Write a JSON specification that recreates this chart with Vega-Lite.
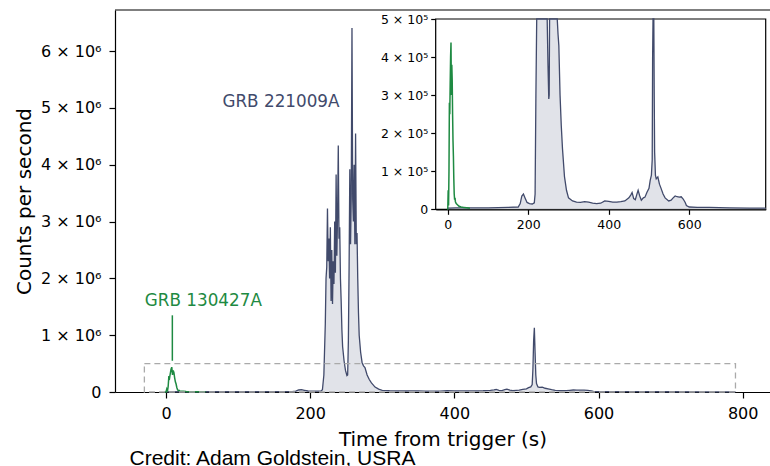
{
  "$schema": "https://vega.github.io/schema/vega-lite/v6.json",
  "width": 655,
  "height": 382,
  "autosize": {"type": "none"},
  "padding": {"left": 115, "top": 10, "right": 0, "bottom": 74},
  "background": "white",
  "config": {
    "font": "DejaVu Sans",
    "view": {"stroke": null},
    "axis": {"grid": false, "domainColor": "black", "tickColor": "black", "labelColor": "black", "titleColor": "black", "domainWidth": 1.2, "tickWidth": 1.2, "titleFontWeight": "normal"}
  },
  "title": {"text": "Credit: Adam Goldstein, USRA", "orient": "bottom", "anchor": "start", "font": "Liberation Sans", "fontSize": 21, "fontWeight": "normal", "color": "black", "dx": 115, "offset": -1},
  "datasets": {
    "grb221009a": [
      {"t": 0, "v": 3000}, {"t": 20, "v": 4000}, {"t": 60, "v": 4000}, {"t": 100, "v": 4000}, {"t": 150, "v": 5000},
      {"t": 175, "v": 6000}, {"t": 180, "v": 15000}, {"t": 184, "v": 35000}, {"t": 188, "v": 40000}, {"t": 192, "v": 30000},
      {"t": 197, "v": 18000}, {"t": 203, "v": 15000}, {"t": 210, "v": 14000}, {"t": 215, "v": 17000}, {"t": 217, "v": 40000},
      {"t": 219, "v": 300000}, {"t": 221, "v": 1200000}, {"t": 222, "v": 2000000}, {"t": 223, "v": 2200000}, {"t": 224, "v": 3230000},
      {"t": 225, "v": 2300000}, {"t": 226, "v": 2700000}, {"t": 227, "v": 2000000}, {"t": 228, "v": 2900000}, {"t": 229, "v": 1600000},
      {"t": 230, "v": 2500000}, {"t": 231, "v": 1550000}, {"t": 232, "v": 2300000}, {"t": 233, "v": 1900000}, {"t": 234, "v": 3000000},
      {"t": 235, "v": 2100000}, {"t": 236, "v": 3830000}, {"t": 237, "v": 2400000}, {"t": 238, "v": 3100000}, {"t": 239, "v": 4340000},
      {"t": 240, "v": 2700000}, {"t": 241, "v": 2900000}, {"t": 242, "v": 2000000}, {"t": 243, "v": 1600000}, {"t": 244, "v": 1100000},
      {"t": 245, "v": 800000}, {"t": 247, "v": 550000}, {"t": 249, "v": 380000}, {"t": 251, "v": 290000}, {"t": 252, "v": 300000},
      {"t": 253, "v": 900000}, {"t": 254, "v": 2200000}, {"t": 255, "v": 3920000}, {"t": 256, "v": 2600000}, {"t": 257, "v": 3500000},
      {"t": 258, "v": 6410000}, {"t": 259, "v": 3400000}, {"t": 260, "v": 3000000}, {"t": 261, "v": 4000000}, {"t": 262, "v": 2600000},
      {"t": 263, "v": 4550000}, {"t": 264, "v": 2600000}, {"t": 265, "v": 2800000}, {"t": 266, "v": 2000000}, {"t": 267, "v": 1400000},
      {"t": 268, "v": 1000000}, {"t": 270, "v": 700000}, {"t": 272, "v": 520000}, {"t": 274, "v": 460000}, {"t": 276, "v": 430000},
      {"t": 279, "v": 300000}, {"t": 282, "v": 220000}, {"t": 285, "v": 160000}, {"t": 290, "v": 86000}, {"t": 295, "v": 50000},
      {"t": 300, "v": 30000}, {"t": 310, "v": 22000}, {"t": 320, "v": 19000}, {"t": 330, "v": 18000}, {"t": 340, "v": 20000},
      {"t": 350, "v": 19000}, {"t": 360, "v": 16000}, {"t": 370, "v": 15000}, {"t": 380, "v": 16000}, {"t": 390, "v": 22000},
      {"t": 400, "v": 21000}, {"t": 410, "v": 19000}, {"t": 420, "v": 19000}, {"t": 430, "v": 20000}, {"t": 440, "v": 22000},
      {"t": 450, "v": 30000}, {"t": 455, "v": 38000}, {"t": 458, "v": 44000}, {"t": 462, "v": 28000}, {"t": 466, "v": 25000},
      {"t": 470, "v": 40000}, {"t": 473, "v": 50000}, {"t": 477, "v": 35000}, {"t": 481, "v": 24000}, {"t": 486, "v": 30000},
      {"t": 490, "v": 32000}, {"t": 495, "v": 45000}, {"t": 500, "v": 55000}, {"t": 503, "v": 76000}, {"t": 506, "v": 90000},
      {"t": 508, "v": 130000}, {"t": 509, "v": 400000}, {"t": 510, "v": 900000}, {"t": 511, "v": 1130000}, {"t": 512, "v": 700000},
      {"t": 513, "v": 300000}, {"t": 514, "v": 150000}, {"t": 516, "v": 90000}, {"t": 518, "v": 80000}, {"t": 522, "v": 85000},
      {"t": 526, "v": 66000}, {"t": 530, "v": 55000}, {"t": 535, "v": 40000}, {"t": 540, "v": 30000}, {"t": 549, "v": 22000},
      {"t": 555, "v": 24000}, {"t": 560, "v": 30000}, {"t": 565, "v": 35000}, {"t": 570, "v": 33000}, {"t": 575, "v": 32000},
      {"t": 580, "v": 33000}, {"t": 585, "v": 27000}, {"t": 590, "v": 18000}, {"t": 593, "v": 10000}, {"t": 600, "v": 6000},
      {"t": 620, "v": 5000}, {"t": 650, "v": 5000}, {"t": 700, "v": 4000}, {"t": 750, "v": 3000}, {"t": 790, "v": 3000}
    ],
    "grb130427a": [
      {"t": -2, "v": 500}, {"t": 0, "v": 1000}, {"t": 1, "v": 50000}, {"t": 2, "v": 10000}, {"t": 3, "v": 100000},
      {"t": 4, "v": 280000}, {"t": 5, "v": 250000}, {"t": 6, "v": 330000}, {"t": 7, "v": 400000}, {"t": 8, "v": 438000},
      {"t": 9, "v": 300000}, {"t": 10, "v": 380000}, {"t": 11, "v": 340000}, {"t": 12, "v": 250000}, {"t": 13, "v": 180000},
      {"t": 14, "v": 140000}, {"t": 15, "v": 80000}, {"t": 16, "v": 40000}, {"t": 17, "v": 25000}, {"t": 18, "v": 30000},
      {"t": 19, "v": 20000}, {"t": 21, "v": 15000}, {"t": 24, "v": 12000}, {"t": 28, "v": 8000}, {"t": 33, "v": 6000},
      {"t": 40, "v": 5000}, {"t": 47, "v": 4000}, {"t": 55, "v": 3000}
    ],
    "labels": [
      {"t": 159.5, "v": 5100000, "name": "GRB 221009A", "grb": "a"},
      {"t": 51.8, "v": 1600000, "name": "GRB 130427A", "grb": "b"}
    ],
    "box": [{"x0": -30, "x1": 790, "y0": 0, "y1": 500000}],
    "pointer": [{"t": 8.8, "v0": 550000, "v1": 1350000}],
    "topspine": [{"v": 6725000}]
  },
  "layer": [
    {
      "layer": [
        {
          "data": {"name": "grb221009a"},
          "mark": {"type": "area", "color": "#d4d7e0", "line": {"color": "#414a6b", "strokeWidth": 1.3}},
          "encoding": {
            "x": {"field": "t", "type": "quantitative", "scale": {"domain": [-70.75, 837.9], "nice": false, "zero": false},
              "axis": {"orient": "bottom", "title": "Time from trigger (s)", "values": [0, 200, 400, 600, 800], "labelFontSize": 16, "titleFontSize": 20, "tickSize": 6, "labelPadding": 7, "titlePadding": 8}},
            "y": {"field": "v", "type": "quantitative", "scale": {"domain": [0, 6725000], "nice": false},
              "axis": {"orient": "left", "title": "Counts per second", "values": [0, 1000000, 2000000, 3000000, 4000000, 5000000, 6000000],
                "labelExpr": "datum.value == 0 ? '0' : format(datum.value / 1000000, 'd') + ' × 10⁶'", "labelFontSize": 16, "titleFontSize": 20, "tickSize": 6, "labelPadding": 8, "titlePadding": 6}}
          }
        },
        {
          "data": {"name": "grb130427a"},
          "mark": {"type": "line", "color": "#1e8a42", "strokeWidth": 1.5},
          "encoding": {"x": {"field": "t", "type": "quantitative"}, "y": {"field": "v", "type": "quantitative"}}
        },
        {
          "data": {"name": "pointer"},
          "mark": {"type": "rule", "color": "#1e8a42", "strokeWidth": 1.5},
          "encoding": {"x": {"field": "t", "type": "quantitative"}, "y": {"field": "v0", "type": "quantitative"}, "y2": {"field": "v1"}}
        },
        {
          "data": {"name": "box"},
          "mark": {"type": "rect", "fill": null, "fillOpacity": 0, "stroke": "#aaaaaa", "strokeWidth": 1.3, "strokeDash": [6, 4]},
          "encoding": {"x": {"field": "x0", "type": "quantitative"}, "x2": {"field": "x1"}, "y": {"field": "y0", "type": "quantitative"}, "y2": {"field": "y1"}}
        },
        {
          "data": {"name": "topspine"},
          "mark": {"type": "rule", "color": "black", "strokeWidth": 1.2},
          "encoding": {"y": {"field": "v", "type": "quantitative"}}
        },
        {
          "data": {"name": "labels"},
          "mark": {"type": "text", "fontSize": 16.8, "align": "center", "baseline": "middle"},
          "encoding": {
            "x": {"field": "t", "type": "quantitative"},
            "y": {"field": "v", "type": "quantitative"},
            "text": {"field": "name"},
            "color": {"field": "grb", "type": "nominal", "scale": {"domain": ["a", "b"], "range": ["#414a6b", "#1e8a42"]}, "legend": null}
          }
        }
      ]
    },
    {
      "layer": [
        {
          "data": {"name": "box"},
          "mark": {"type": "rect", "fill": "white", "stroke": "black", "strokeWidth": 1.2},
          "encoding": {
            "x": {"field": "x0", "type": "quantitative", "scale": {"domain": [-30, 790], "range": [320.7, 650.7], "nice": false, "zero": false},
              "axis": {"orient": "bottom", "offset": -182.7, "title": null, "values": [0, 200, 400, 600], "labelFontSize": 12.5, "tickSize": 5, "labelPadding": 4}},
            "x2": {"field": "x1"},
            "y": {"field": "y0", "type": "quantitative", "scale": {"domain": [0, 500000], "range": [199.3, 9], "nice": false, "clamp": true},
              "axis": {"orient": "left", "offset": -320.7, "title": null, "values": [0, 100000, 200000, 300000, 400000, 500000],
                "labelExpr": "datum.value == 0 ? '0' : format(datum.value / 100000, 'd') + ' × 10⁵'", "labelFontSize": 12.5, "tickSize": 5, "labelPadding": 3}},
            "y2": {"field": "y1"}
          }
        },
        {
          "data": {"name": "grb221009a"},
          "mark": {"type": "area", "color": "#d4d7e0", "line": {"color": "#414a6b", "strokeWidth": 1.3}},
          "encoding": {"x": {"field": "t", "type": "quantitative"}, "y": {"field": "v", "type": "quantitative"}}
        },
        {
          "data": {"name": "grb130427a"},
          "mark": {"type": "line", "color": "#1e8a42", "strokeWidth": 1.5},
          "encoding": {"x": {"field": "t", "type": "quantitative"}, "y": {"field": "v", "type": "quantitative"}}
        }
      ]
    }
  ],
  "resolve": {"scale": {"x": "independent", "y": "independent", "color": "independent"}, "axis": {"x": "independent", "y": "independent"}}
}
